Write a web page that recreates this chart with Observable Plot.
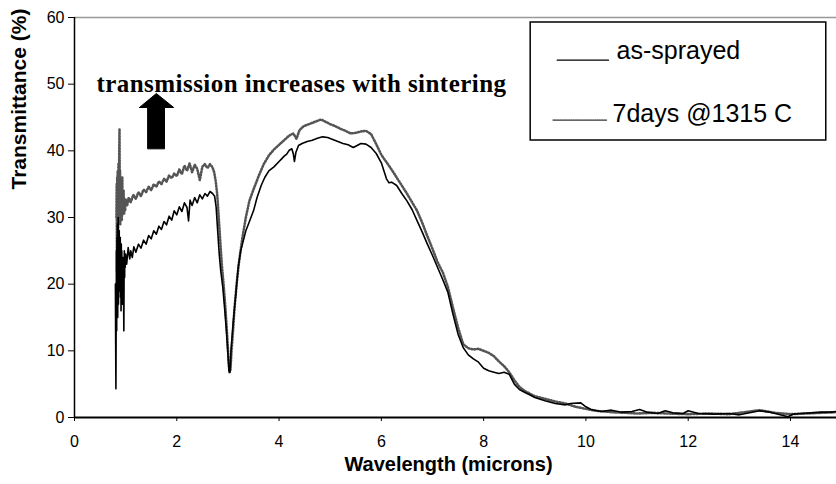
<!DOCTYPE html>
<html>
<head>
<meta charset="utf-8">
<script src="https://cdn.jsdelivr.net/npm/d3@7"></script>
<script src="https://cdn.jsdelivr.net/npm/@observablehq/plot@0.6"></script>
<style>
  html, body { margin: 0; padding: 0; background: #fff; }
</style>
</head>
<body>
<div id="chart"></div>
<script>
// ---- Data ----
const seriesNames = ["as-sprayed", "7days @1315 C"];

const sprayedX = [0.80,0.805,0.81,0.815,0.82,0.825,0.83,0.835,0.84,0.845,0.85,0.855,0.86,0.865,0.87,0.875,0.88,0.885,0.89,0.895,0.90,0.905,0.91,0.915,0.92,0.925,0.93,0.935,0.94,0.945,0.95,0.955,0.96,0.965,0.97,0.975,0.98,0.985,0.99,1.00,
1.02,1.05,1.08,1.10,1.13,1.16,1.20,1.25,1.30,1.35,1.40,1.45,1.50,1.55,1.60,1.65,1.70,1.75,1.80,1.85,1.90,1.95,2.00,2.05,2.10,2.15,2.20,2.23,2.26,2.30,2.35,2.40,2.45,2.50,2.55,2.60,2.65,2.70,2.74,2.77,2.80,2.83,2.86,2.90,2.94,2.97,3.00,3.02,3.04,3.06,3.08,3.10,3.13,3.16,3.20,3.25,3.30,3.35,3.40,3.45,3.50,3.57,3.65,3.72,3.80,3.90,4.00,4.05,4.10,4.15,4.20,4.25,4.28,4.30,4.33,4.38,4.45,4.55,4.65,4.75,4.85,4.95,5.05,5.15,5.25,5.35,5.45,5.50,5.60,5.70,5.80,5.90,6.00,6.05,6.10,6.15,6.20,6.30,6.40,6.50,6.60,6.70,6.80,6.90,7.00,7.10,7.20,7.30,7.40,7.50,7.60,7.70,7.80,7.90,8.00,8.10,8.20,8.30,8.40,8.50,8.60,8.70,8.80,8.90,9.00,9.20,9.40,9.60,9.70,9.90,10.00,10.10,10.30,10.50,10.70,10.90,11.05,11.20,11.40,11.55,11.70,11.90,12.00,12.20,12.50,12.80,13.00,13.20,13.40,13.60,13.80,13.95,14.05,14.20,14.40,14.60,14.80,14.90];
const sprayedT = [20,11,4.3,15,25,13,27,18,29,15,24,30,17,26,20,28,19,25,21,27,18,24,16,26,20,25,19,23,17,22,24,20,18,13,22,25,21,24,22.5,24.5,
23,25.5,23.8,25,24,25.6,24.8,26,25.4,26.6,26,27.3,26.8,28,27.5,28.7,28.2,29.4,28.9,30.2,29.6,31,30.4,31.6,30.9,32.2,31.5,29.5,32.6,31.8,33,32.2,33.4,32.8,33.6,33.2,33.9,33.6,33.2,31.5,28,24.5,22,19.5,16,13,9.5,7,6.8,10,12,14,16.5,19,22.5,25,26.5,28,29,30,31,33,34.8,36,37,37.6,38.4,38.8,39.2,39.5,40.1,40.3,39.5,38.4,39.8,40.8,41.1,41.4,41.6,41.9,42.1,42,41.7,41.4,41.1,40.9,40.5,40.7,41.1,41,40.5,39.6,38.2,37,35.8,35.2,35.3,34.8,33.6,32.5,31.2,29.5,27.8,26,24.3,22.5,20.7,18.8,15.5,12.5,10.5,9.4,8.8,8.3,7.4,7.0,6.8,6.6,6.8,6.5,5.0,4.2,3.8,3.4,3.0,2.5,2.1,1.9,2.1,2.2,1.6,1.2,0.9,1.1,0.8,0.9,1.2,0.8,0.6,1.0,0.7,0.6,1.0,0.6,0.5,0.6,0.4,0.7,1.0,0.8,0.4,0.1,0.5,0.6,0.7,0.8,0.8,0.9];

const sinteredX = [0.82,0.825,0.83,0.835,0.84,0.845,0.85,0.855,0.86,0.865,0.87,0.875,0.88,0.885,0.89,0.895,0.90,0.905,0.91,0.915,0.92,0.925,0.93,0.935,0.94,0.945,0.95,0.96,0.97,0.98,0.99,1.00,1.03,1.06,1.10,1.15,1.20,1.25,1.30,1.35,1.40,1.45,1.50,1.55,1.60,1.65,1.70,1.75,1.80,1.85,1.90,1.95,2.00,2.05,2.10,2.15,2.20,2.25,2.30,2.35,2.40,2.45,2.50,2.55,2.60,2.65,2.70,2.73,2.76,2.79,2.82,2.85,2.88,2.92,2.95,2.98,3.01,3.03,3.05,3.07,3.10,3.13,3.17,3.22,3.28,3.35,3.42,3.50,3.60,3.70,3.80,3.90,4.00,4.10,4.20,4.28,4.34,4.40,4.48,4.55,4.65,4.75,4.82,4.90,5.00,5.10,5.20,5.30,5.40,5.50,5.60,5.70,5.80,5.90,6.00,6.10,6.20,6.30,6.40,6.50,6.60,6.70,6.80,6.90,7.00,7.10,7.20,7.30,7.40,7.50,7.60,7.70,7.80,7.90,8.00,8.10,8.20,8.30,8.40,8.50,8.60,8.70,8.80,8.90,9.00,9.20,9.40,9.60,9.80,10.00,10.20,10.50,10.80,11.00,11.30,11.60,12.00,12.40,12.80,13.10,13.40,13.70,14.00,14.30,14.60,14.90];
const sinteredT = [30,35,22,36,31,37,18,34,38,30,36,40,43.3,33,37,29,35,31,36,30,34,29.5,33,36,30.5,33,31,34,30.5,32.5,31,32.8,31.8,33,32.3,33.4,32.8,33.8,33.2,34.2,33.8,34.6,34.1,35,34.6,35.4,35,35.8,35.4,36.3,35.9,36.6,36.2,37.2,36.5,37.8,37,38.1,36.8,37.9,37.3,35.6,37.6,38,37.4,38,37.5,36.8,35.5,33.5,30,26.5,23,19.5,16.5,13,9,6.8,7.2,10,13,16.5,20,23.5,26.8,30,32.5,34.2,36.2,38,39.3,40.2,40.9,41.6,42.3,42.6,41.8,43.1,43.7,43.9,44.2,44.5,44.7,44.4,44.0,43.7,43.3,43.0,42.6,42.7,42.9,43.0,42.5,41.0,39.4,38.3,37.2,36,34.8,33.6,32.3,31,29.2,27.2,25.3,23.3,21.8,19.6,16.5,13.5,11,10.4,10.2,10.3,10.0,9.7,9.2,8.4,7.7,6.8,5.6,4.6,4.0,3.6,3.2,2.8,2.4,2.1,1.6,1.3,1.0,0.8,0.7,0.6,0.7,0.6,0.5,0.6,0.5,0.8,1.1,0.7,0.5,0.6,0.7,0.8];

const xTicks = [0, 2, 4, 6, 8, 10, 12, 14];
const yTicks = [0, 10, 20, 30, 40, 50, 60];
const xLabel = "Wavelength (microns)";
const yLabel = "Transmittance (%)";
const annotation = "transmission increases with sintering";

// ---- Build tables ----
const sprayed = sprayedX.map((x, i) => ({x, y: sprayedT[i]}));
const sintered = sinteredX.map((x, i) => ({x, y: sinteredT[i]}));

// Block arrow outline (data coordinates)
const arrowPts = [[1.27,46.5],[1.6,48.6],[1.94,46.5],[1.76,46.5],[1.76,40.3],[1.43,40.3],[1.43,46.5],[1.27,46.5]]
  .map(([x, y]) => ({x, y}));

const dotStyle = {stroke: "#555", strokeWidth: 2.6, strokeDasharray: "1,2"};
const legendDotStyle = {stroke: "#666", strokeWidth: 1.6, strokeDasharray: "1,1.2"};

const chart = Plot.plot({
  width: 836,
  height: 484,
  marginLeft: 74,
  marginRight: 0,
  marginTop: 17,
  marginBottom: 67,
  style: {fontFamily: "'Liberation Sans', Arial, sans-serif", fontSize: "16px", color: "#000", background: "#fff", overflow: "visible"},
  x: {domain: [0, 14.9]},
  y: {domain: [0, 60]},
  marks: [
    Plot.axisX({ticks: xTicks, tickSize: 4, tickPadding: 14, label: null, fontSize: 16}),
    Plot.axisY({ticks: yTicks, tickSize: 6, tickPadding: 4, label: null, fontSize: 16}),
    Plot.ruleY([60], {stroke: "#999", strokeWidth: 1.5}),
    Plot.line(sintered, {x: "x", y: "y", ...dotStyle}),
    Plot.line(sprayed, {x: "x", y: "y", stroke: "#000", strokeWidth: 1.6}),
    Plot.ruleX([0], {stroke: "#000", strokeWidth: 1.5}),
    Plot.ruleY([0], {stroke: "#000", strokeWidth: 2}),
    // annotation
    Plot.line(arrowPts, {x: "x", y: "y", fill: "#000", stroke: "#000", strokeWidth: 1}),
    Plot.text([annotation], {x: 0.43, y: 50, textAnchor: "start", lineAnchor: "middle",
      fontFamily: "'Liberation Serif', 'Times New Roman', serif", fontWeight: "bold", fontSize: 25, className: "annot"}),
    // legend
    Plot.rect([0], {x1: 8.92, x2: 14.70, y1: 41.55, y2: 59.25, fill: "#fff", stroke: "#000", strokeWidth: 1.5}),
    Plot.line([{x: 9.44, y: 53.6}, {x: 10.44, y: 53.6}], {x: "x", y: "y", stroke: "#000", strokeWidth: 1.4}),
    Plot.line([{x: 9.36, y: 44.6}, {x: 10.40, y: 44.6}], {x: "x", y: "y", ...legendDotStyle}),
    Plot.text([seriesNames[0]], {x: 10.6, y: 55.0, textAnchor: "start", lineAnchor: "middle", fontSize: 25}),
    Plot.text([seriesNames[1]], {x: 10.52, y: 45.6, textAnchor: "start", lineAnchor: "middle", fontSize: 25}),
    // axis titles
    Plot.text([xLabel], {frameAnchor: "bottom", dy: 47, dx: -7, lineAnchor: "middle", fontWeight: "bold", fontSize: 20}),
    Plot.text([yLabel], {frameAnchor: "left", dx: -55, dy: -28, rotate: -90, lineAnchor: "middle", fontWeight: "bold", fontSize: 21})
  ]
});
d3.select(chart).selectAll("g.annot text").style("letter-spacing", "0.45px");
document.getElementById("chart").appendChild(chart);
</script>
</body>
</html>
